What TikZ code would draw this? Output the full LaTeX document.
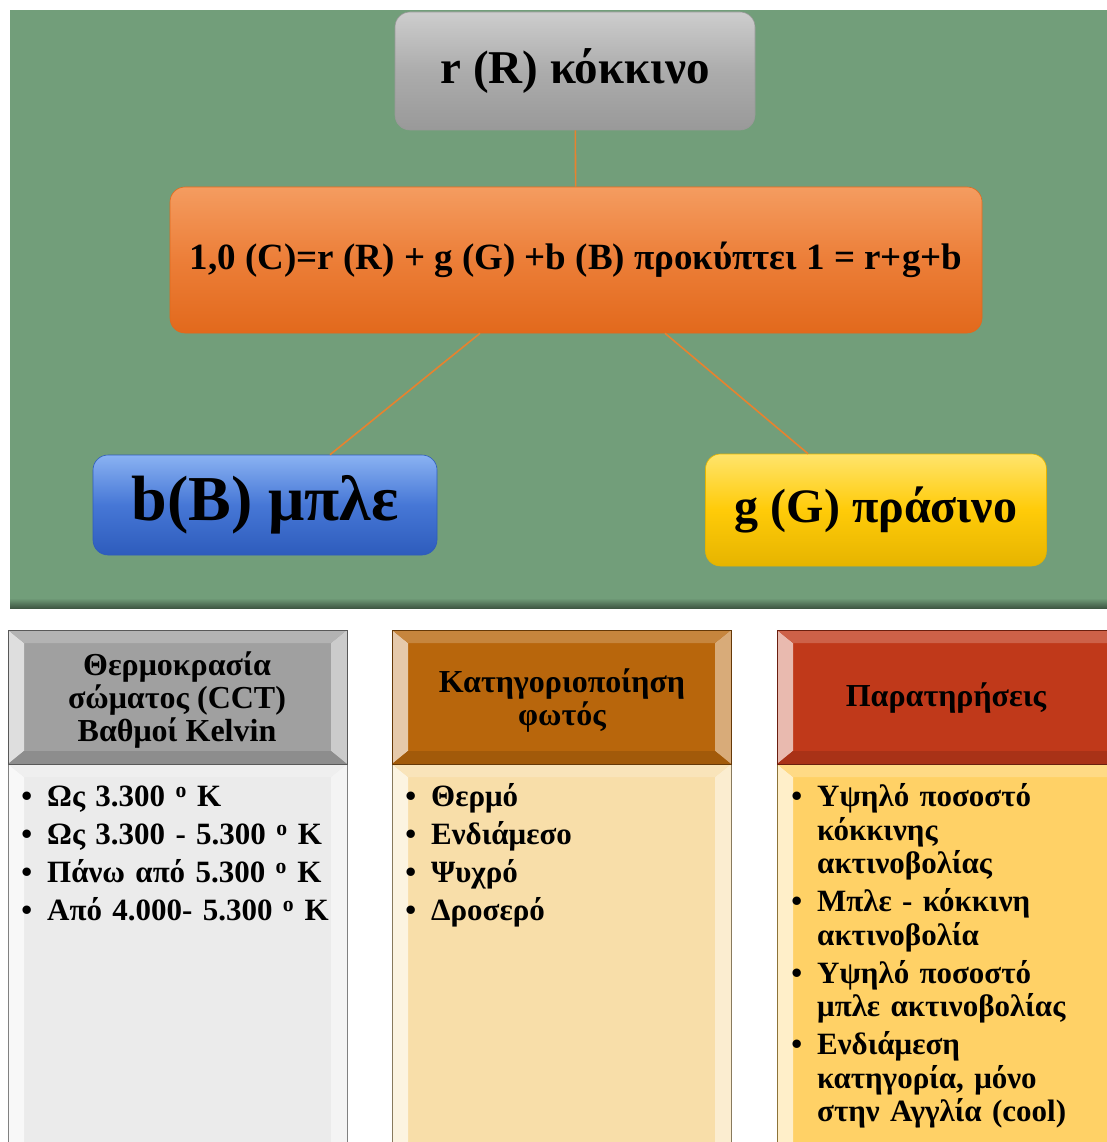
\documentclass[tikz,border=0pt]{standalone}
\usepackage{fontspec}
\setmainfont{Liberation Serif}
\usepackage{enumitem}
\usetikzlibrary{positioning}

\definecolor{panelgreen}{HTML}{729E7A}
\definecolor{linkorange}{HTML}{E8822E}
\definecolor{headgray}{HTML}{A0A0A0}
\definecolor{headbrown}{HTML}{B8660C}
\definecolor{headred}{HTML}{C0391A}
\definecolor{bodygray}{HTML}{EBEBEB}
\definecolor{bodycream}{HTML}{F8DEA9}
\definecolor{bodyyellow}{HTML}{FFD166}
\definecolor{redtop}{HTML}{CDCDCD}
\definecolor{redmid}{HTML}{ACACAC}
\definecolor{redbot}{HTML}{999999}
\definecolor{sumtop}{HTML}{F49C60}
\definecolor{summid}{HTML}{EC7E38}
\definecolor{sumbot}{HTML}{E2691C}
\definecolor{bluetop}{HTML}{8AB2F2}
\definecolor{bluemid}{HTML}{4677D6}
\definecolor{bluebot}{HTML}{2E5CBC}
\definecolor{yeltop}{HTML}{FFE46C}
\definecolor{yelmid}{HTML}{FFCB08}
\definecolor{yelbot}{HTML}{E6B400}

% x1,y1,x2,y2,colour
\newcommand\bevelbox[5]{%
  \fill[#5] (#1,#2) rectangle (#3,#4);
  \fill[#5!35!white] (#1,#2) -- (#1+16,#2+13) -- (#1+16,#4-13) -- (#1,#4) -- cycle;
  \fill[#5!55!white] (#3,#2) -- (#3-16,#2+13) -- (#3-16,#4-13) -- (#3,#4) -- cycle;
  \fill[#5!80!white] (#1,#2) -- (#1+16,#2+13) -- (#3-16,#2+13) -- (#3,#2) -- cycle;
  \fill[#5!88!black] (#1,#4) -- (#1+16,#4-13) -- (#3-16,#4-13) -- (#3,#4) -- cycle;
  \draw[#5!55!black, line width=1pt] (#1,#2) rectangle (#3,#4);
}

\begin{document}
\begin{tikzpicture}[x=1pt,y=-1pt,
  colbox/.style={rounded corners=15pt, draw=#1, line width=0.6pt,
    align=center, inner sep=0pt},
  link/.style={draw=linkorange, line width=1.6pt},
  headtext/.style={font=\bfseries\fontsize{32}{33}\selectfont, align=center, inner sep=0pt},
  listtext/.style={font=\bfseries\fontsize{31}{33.5}\selectfont, anchor=north west,
    inner sep=0pt, text width=#1}
]
\useasboundingbox (0,0) rectangle (1107,1142);

% green panel
\fill[panelgreen] (10,10) rectangle (1110,608);
\shade[top color=panelgreen, bottom color=panelgreen!55!black] (10,598) rectangle (1110,608);

% the four colour boxes
\node[colbox=redbot, minimum width=360pt, minimum height=118pt,
  top color=redtop, bottom color=redbot, middle color=redmid,
  font=\bfseries\fontsize{47}{50}\selectfont] (red) at (575,71) {r (R) κόκκινο};
\node[colbox=sumbot, minimum width=812pt, minimum height=146pt,
  top color=sumtop, bottom color=sumbot, middle color=summid,
  font=\bfseries\fontsize{37}{40}\selectfont] (sum) at (576,260)
  {1,0 (C)=r (R) + g (G) +b (B) προκύπτει 1 = r+g+b};
\node[colbox=bluebot, minimum width=344pt, minimum height=100pt,
  top color=bluetop, bottom color=bluebot, middle color=bluemid,
  font=\bfseries\fontsize{64}{66}\selectfont] (blue) at (265,505) {b(B) μπλε};
\node[colbox=yelbot, minimum width=341pt, minimum height=112pt,
  top color=yeltop, bottom color=yelbot, middle color=yelmid,
  font=\bfseries\fontsize{48}{50}\selectfont] (green) at (876,510) {g (G) πράσινο};

\draw[link] (red) -- (sum);
\draw[link] ([xshift=-96pt]sum.south) -- ([xshift=65pt]blue.north);
\draw[link] ([xshift=89pt]sum.south) -- ([xshift=-68pt]green.north);

% table columns
\bevelbox{8}{764}{347}{1160}{bodygray}
\bevelbox{392}{764}{731}{1160}{bodycream}
\bevelbox{777}{764}{1125}{1160}{bodyyellow}
\bevelbox{8}{630}{347}{764}{headgray}
\bevelbox{392}{630}{731}{764}{headbrown}
\bevelbox{777}{630}{1125}{764}{headred}

\node[headtext] (cct) at (177,700) {Θερμοκρασία\\σώματος (CCT)\\Βαθμοί Kelvin};
\node[headtext] (kind) at (562,701) {Κατηγοριοποίηση\\φωτός};
\node[headtext] (notes) at (946,698) {Παρατηρήσεις};

\node[listtext=320pt] (cctlist) at (22,773) {%
  \begin{itemize}[leftmargin=25pt,labelsep=15pt,itemsep=4.5pt,parsep=0pt,topsep=0pt,label=\textbullet]
  \item Ως 3.300 \textsuperscript{o} K
  \item Ως 3.300 - 5.300 \textsuperscript{o} K
  \item Πάνω από 5.300 \textsuperscript{o} K
  \item Από 4.000- 5.300 \textsuperscript{o} K
  \end{itemize}};
\node[listtext=320pt] (kindlist) at (406,773) {%
  \begin{itemize}[leftmargin=25pt,labelsep=15pt,itemsep=4.5pt,parsep=0pt,topsep=0pt,label=\textbullet]
  \item Θερμό
  \item Ενδιάμεσο
  \item Ψυχρό
  \item Δροσερό
  \end{itemize}};
\node[listtext=310pt] (noteslist) at (792,773) {%
  \begin{itemize}[leftmargin=25pt,labelsep=15pt,itemsep=4.5pt,parsep=0pt,topsep=0pt,label=\textbullet]
  \item Υψηλό ποσοστό\newline κόκκινης\newline ακτινοβολίας
  \item Μπλε - κόκκινη\newline ακτινοβολία
  \item Υψηλό ποσοστό\newline μπλε ακτινοβολίας
  \item Ενδιάμεση\newline κατηγορία, μόνο\newline στην Αγγλία (cool)
  \end{itemize}};
\end{tikzpicture}
\end{document}
